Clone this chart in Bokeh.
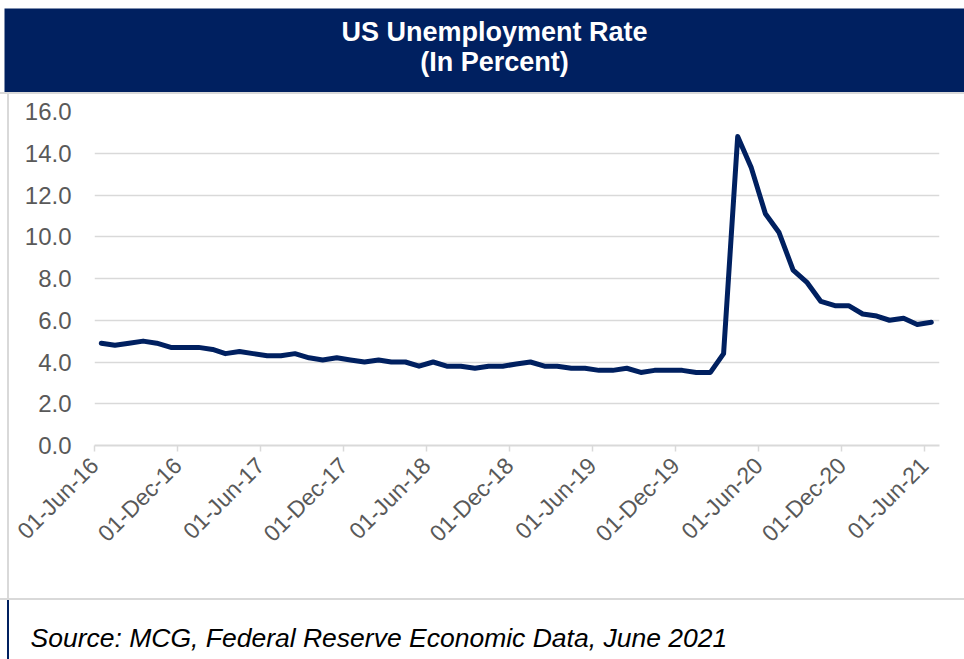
import numpy as np
import pandas as pd
from bokeh.plotting import figure
from bokeh.layouts import column, row
from bokeh.models import Range1d, FixedTicker, ColumnDataSource, Div
from bokeh.models import PrintfTickFormatter
from bokeh.core.properties import value
from bokeh.embed import file_html
from bokeh.resources import INLINE

# ---------------- data ----------------
TITLE_LINES = ["US Unemployment Rate", "(In Percent)"]
SOURCE_TEXT = "Source: MCG, Federal Reserve Economic Data, June 2021"

FIRST_MONTH = "2016-06-01"
RATES = [4.9, 4.8, 4.9, 5.0, 4.9, 4.7, 4.7, 4.7, 4.6, 4.4,
         4.5, 4.4, 4.3, 4.3, 4.4, 4.2, 4.1, 4.2, 4.1, 4.0,
         4.1, 4.0, 4.0, 3.8, 4.0, 3.8, 3.8, 3.7, 3.8, 3.8,
         3.9, 4.0, 3.8, 3.8, 3.7, 3.7, 3.6, 3.6, 3.7, 3.5,
         3.6, 3.6, 3.6, 3.5, 3.5, 4.4, 14.8, 13.3, 11.1, 10.2,
         8.4, 7.8, 6.9, 6.7, 6.7, 6.3, 6.2, 6.0, 6.1, 5.8,
         5.9]
MONTHS = pd.date_range(FIRST_MONTH, periods=len(RATES), freq="MS")

TICK_DATES = ["2016-06-01", "2016-12-01", "2017-06-01", "2017-12-01",
              "2018-06-01", "2018-12-01", "2019-06-01", "2019-12-01",
              "2020-06-01", "2020-12-01", "2021-06-01"]
TICK_LABELS = ["01-Jun-16", "01-Dec-16", "01-Jun-17", "01-Dec-17",
               "01-Jun-18", "01-Dec-18", "01-Jun-19", "01-Dec-19",
               "01-Jun-20", "01-Dec-20", "01-Jun-21"]
Y_TICKS = [0, 2, 4, 6, 8, 10, 12, 14, 16]

# ---------------- style ----------------
NAVY = "#002060"
GRID = "#d9d9d9"
LABEL = "#595959"
FONT = "Liberation Sans"


def block(w, h, color):
    return Div(width=w, height=h, margin=0, styles={"background-color": color})


# ---------------- title band ----------------
title_fig = figure(width=960, height=84, x_range=Range1d(0, 1), y_range=Range1d(0, 1),
                   x_axis_location=None, y_axis_location=None,
                   output_backend="svg", toolbar_location=None, min_border=0)
title_fig.background_fill_color = NAVY
title_fig.border_fill_color = NAVY
title_fig.outline_line_color = None
title_fig.grid.visible = False
title_src = ColumnDataSource(dict(x=[0.5104, 0.5104], y=[0.718, 0.361], text=TITLE_LINES))
title_fig.text(x="x", y="y", text="text", source=title_src, text_color="white",
               text_font=value(FONT), text_font_size="27px", text_font_style="bold",
               text_align="center", text_baseline="alphabetic")

# ---------------- main chart ----------------
tick_ms = [pd.Timestamp(d).value / 1e6 for d in TICK_DATES]
x_mid = MONTHS + pd.Timedelta(days=15)

p = figure(width=955, height=504, x_axis_type="datetime",
           x_range=Range1d(pd.Timestamp("2016-06-01"), pd.Timestamp("2021-07-04")),
           y_range=Range1d(0, 16),
           output_backend="svg", toolbar_location=None,
           min_border_left=85, min_border_right=25, min_border_top=17, min_border_bottom=153)
p.background_fill_color = "white"
p.border_fill_color = "white"
p.outline_line_color = None

src = ColumnDataSource(dict(x=x_mid, y=RATES))
p.line(x="x", y="y", source=src, line_color=NAVY, line_width=5,
       line_join="round", line_cap="round")

p.xgrid.visible = False
p.ygrid.ticker = FixedTicker(ticks=Y_TICKS)
p.ygrid.grid_line_color = GRID
p.ygrid.grid_line_width = 1.3

p.yaxis.ticker = FixedTicker(ticks=Y_TICKS)
p.yaxis.formatter = PrintfTickFormatter(format="%.1f")
p.yaxis.axis_line_color = None
p.yaxis.major_tick_line_color = None
p.yaxis.major_tick_out = 0
p.yaxis.major_tick_in = 0
p.yaxis.minor_tick_line_color = None
p.yaxis.minor_tick_out = 0
p.yaxis.major_label_standoff = 23
p.yaxis.major_label_text_font = FONT
p.yaxis.major_label_text_font_size = "24px"
p.yaxis.major_label_text_color = LABEL

p.xaxis.ticker = FixedTicker(ticks=tick_ms)
p.xaxis.major_label_overrides = {t: lab for t, lab in zip(tick_ms, TICK_LABELS)}
p.xaxis.major_label_orientation = np.pi / 4
p.xaxis.axis_line_color = GRID
p.xaxis.axis_line_width = 2
p.xaxis.major_tick_line_color = GRID
p.xaxis.major_tick_line_width = 1.5
p.xaxis.major_tick_out = 6
p.xaxis.major_tick_in = 0
p.xaxis.minor_tick_line_color = None
p.xaxis.major_label_standoff = 10
p.xaxis.major_label_text_font = FONT
p.xaxis.major_label_text_font_size = "23px"
p.xaxis.major_label_text_color = LABEL

# ---------------- source line ----------------
src_fig = figure(width=955, height=59, x_range=Range1d(0, 1), y_range=Range1d(0, 1),
                 x_axis_location=None, y_axis_location=None,
                 output_backend="svg", toolbar_location=None, min_border=0)
src_fig.outline_line_color = None
src_fig.grid.visible = False
src_fig.text(x=[0.022], y=[0.356], text=[SOURCE_TEXT], text_color="black",
             text_font=value(FONT), text_font_size="26.5px", text_font_style="italic",
             text_align="left", text_baseline="alphabetic")

layout = column(
    block(964, 8, "white"),
    row(block(4, 84, "white"), title_fig),
    block(964, 2, GRID),
    row(block(7, 504, "white"), block(2, 504, GRID), p),
    block(964, 2, GRID),
    row(block(7, 59, "white"), block(2, 59, NAVY), src_fig),
)

open("out.html", "w").write(file_html(layout, INLINE))
